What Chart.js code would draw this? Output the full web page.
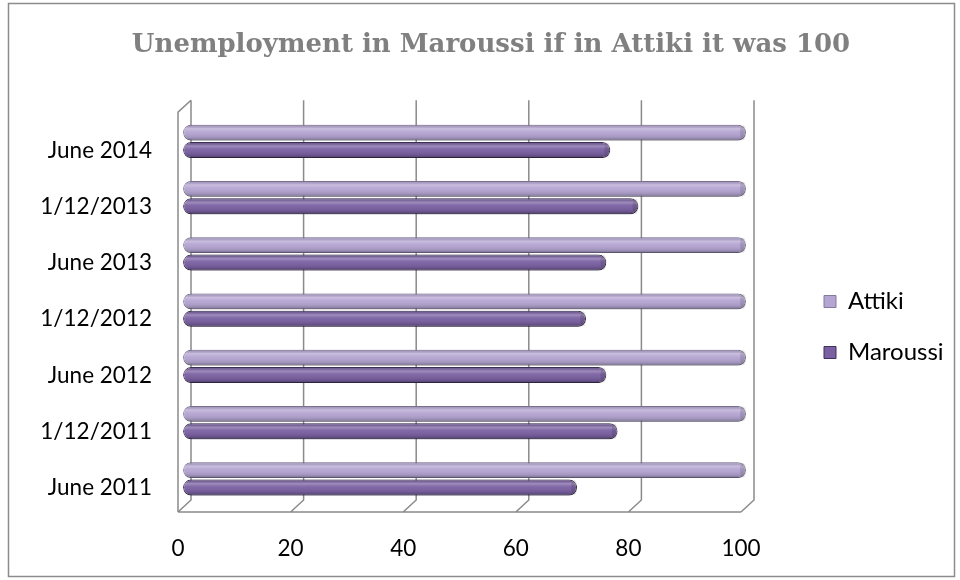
<!DOCTYPE html>
<html>
<head>
<meta charset="utf-8">
<script src="https://cdn.jsdelivr.net/npm/chart.js@4.4.1/dist/chart.umd.min.js"></script>
<style>
  html, body { margin: 0; padding: 0; background: #ffffff; }
  #wrap { width: 960px; height: 580px; position: relative; }
</style>
</head>
<body>
<div id="wrap"><canvas id="chart" width="960" height="580"></canvas></div>
<script>
// categories, top to bottom as drawn
var categories = ['June 2014', '1/12/2013', 'June 2013', '1/12/2012', 'June 2012', '1/12/2011', 'June 2011'];
var attikiValues = [100, 100, 100, 100, 100, 100, 100];
var maroussiValues = [75.9, 80.9, 75.2, 71.6, 75.2, 77.2, 70.0];
var xTicks = [0, 20, 40, 60, 80, 100];

var chartTitle = 'Unemployment in Maroussi if in Attiki it was 100';
var wallColor = '#8a8a8a';
// fake 3d: back wall sits right/up of the bars, floor edge left/down
var backDx = 8, frontDx = -5;

// frame around the whole chart
var framePlugin = {
    id: 'frame',
    beforeDraw: function (chart) {
        var ctx = chart.ctx;
        ctx.save();
        ctx.strokeStyle = '#8c8c8c';
        ctx.lineWidth = 1.5;
        ctx.strokeRect(8.5, 3.5, 946, 573);
        ctx.restore();
    }
};

// back wall gridlines + floor, drawn from the x scale
var wallsPlugin = {
    id: 'walls',
    beforeDatasetsDraw: function (chart) {
        var ctx = chart.ctx;
        var x = chart.scales.x;
        var area = chart.chartArea;
        var top = area.top - 13;
        var back = area.bottom - 7;
        var front = area.bottom + 5;
        ctx.save();
        ctx.strokeStyle = wallColor;
        ctx.lineWidth = 1.5;
        ctx.beginPath();
        xTicks.forEach(function (v) {
            var px = x.getPixelForValue(v);
            ctx.moveTo(px + backDx, top);
            ctx.lineTo(px + backDx, back);
            ctx.lineTo(px + frontDx, front);
        });
        var x0 = x.getPixelForValue(0);
        var x1 = x.getPixelForValue(100);
        // floor front edge
        ctx.moveTo(x0 + frontDx, front);
        ctx.lineTo(x1 + frontDx, front);
        // left wall front edge
        ctx.moveTo(x0 + frontDx, front);
        ctx.lineTo(x0 + frontDx, top + 12);
        ctx.lineTo(x0 + backDx, top);
        ctx.stroke();
        ctx.restore();
    }
};

// cylinder shading on top of each bar
var shadePlugin = {
    id: 'shade',
    afterDatasetsDraw: function (chart) {
        var ctx = chart.ctx;
        chart.data.datasets.forEach(function (ds, di) {
            var meta = chart.getDatasetMeta(di);
            meta.data.forEach(function (bar) {
                var h = bar.height;
                var y0 = bar.y - h / 2;
                var left = Math.min(bar.base, bar.x);
                var w = Math.abs(bar.x - bar.base);
                var g = ctx.createLinearGradient(0, y0, 0, y0 + h);
                g.addColorStop(0, 'rgba(0,0,0,0.10)');
                g.addColorStop(0.25, 'rgba(255,255,255,0.28)');
                g.addColorStop(0.45, 'rgba(255,255,255,0.05)');
                g.addColorStop(0.8, 'rgba(0,0,0,0.10)');
                g.addColorStop(1, 'rgba(0,0,0,0.35)');
                ctx.save();
                ctx.beginPath();
                ctx.roundRect(left, y0, w, h, h / 2);
                ctx.fillStyle = g;
                ctx.fill();
                // end cap
                ctx.beginPath();
                ctx.ellipse(bar.x - 3, bar.y, 3, h / 2 - 0.5, 0, 0, Math.PI * 2);
                ctx.fillStyle = 'rgba(0,0,0,0.12)';
                ctx.fill();
                ctx.restore();
            });
        });
    }
};

var ctx = document.getElementById('chart').getContext('2d');
var chart = new Chart(ctx, {
    type: 'bar',
    data: {
        labels: categories,
        datasets: [
            {
                label: 'Attiki',
                data: attikiValues,
                backgroundColor: '#b4a5d2',
                borderColor: '#85799e',
                borderWidth: 1,
                borderRadius: 8,
                borderSkipped: false
            },
            {
                label: 'Maroussi',
                data: maroussiValues,
                backgroundColor: '#7a60a2',
                borderColor: '#3f3159',
                borderWidth: 1,
                borderRadius: 8,
                borderSkipped: false
            }
        ]
    },
    options: {
        indexAxis: 'y',
        responsive: false,
        animation: false,
        categoryPercentage: 0.62,
        barPercentage: 0.914,
        layout: { padding: { left: 35, right: 13, top: 0, bottom: 0 } },
        plugins: {
            title: {
                display: true,
                text: chartTitle,
                color: '#808080',
                font: { family: 'DejaVu Serif', size: 26, weight: 'bold' },
                padding: { top: 30, bottom: 14 }
            },
            legend: {
                position: 'right',
                maxWidth: 150,
                title: {
                    display: true,
                    text: ' ',
                    font: { size: 10 },
                    padding: { top: 31, bottom: 31 }
                },
                labels: {
                    color: '#000000',
                    font: { family: 'Lato', size: 24 },
                    boxWidth: 12,
                    boxHeight: 12,
                    padding: 27,
                    generateLabels: function (c) {
                        return c.data.datasets.map(function (ds, i) {
                            return {
                                text: ds.label,
                                fillStyle: ds.backgroundColor,
                                strokeStyle: ds.borderColor,
                                lineWidth: 1,
                                fontColor: '#000000',
                                datasetIndex: i
                            };
                        });
                    }
                }
            },
            tooltip: { enabled: false }
        },
        scales: {
            x: {
                min: 0,
                max: 100,
                afterBuildTicks: function (s) {
                    s.ticks = xTicks.map(function (v) { return { value: v }; });
                },
                grid: { display: false, drawTicks: false },
                border: { display: false },
                ticks: {
                    color: '#000000',
                    font: { family: 'Lato', size: 22.5 },
                    padding: 28,
                    labelOffset: -5
                },
                afterFit: function (s) { s.height = 73; }
            },
            xTop: {
                type: 'linear',
                position: 'top',
                grid: { display: false, drawTicks: false },
                border: { display: false },
                ticks: { display: false },
                afterFit: function (s) { s.height = 38; }
            },
            y: {
                grid: { display: false, drawTicks: false },
                border: { display: false },
                ticks: {
                    color: '#000000',
                    font: { family: 'Lato', size: 22.5 },
                    padding: 31,
                    labelOffset: 9
                },
                afterFit: function (s) { s.width = 148; }
            },
            yRight: {
                type: 'linear',
                position: 'right',
                grid: { display: false, drawTicks: false },
                border: { display: false },
                ticks: { display: false },
                afterFit: function (s) { s.width = 51; }
            }
        }
    },
    plugins: [framePlugin, wallsPlugin, shadePlugin]
});
</script>
</body>
</html>
